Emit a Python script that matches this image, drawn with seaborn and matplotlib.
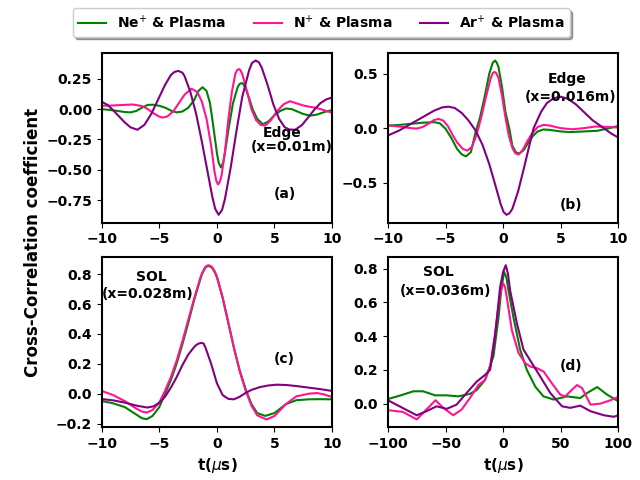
import numpy as np
import matplotlib
matplotlib.use('Agg')
import matplotlib.pyplot as plt
import seaborn as sns

# colours / labels
labels = ['Ne$^{+}$ & Plasma', 'N$^{+}$ & Plasma', 'Ar$^{+}$ & Plasma']
colors = ['green', '#ff1493', 'purple']

# (a) Edge x=0.01m
t_a_ne = [-10, -9, -8, -7.5, -7, -6.5, -6, -5.5, -5, -4.5, -4, -3.5, -3, -2.5, -2, -1.6, -1.25, -0.9, -0.6, -0.3,
          0.0, 0.15, 0.35, 0.55, 0.7, 1.0, 1.4, 1.8, 1.95, 2.15, 2.3, 2.5, 2.8, 3.1, 3.5, 4.0, 4.5, 5, 5.5, 6, 6.5,
          7, 7.5, 8.1, 8.7, 9.3, 10]
v_a_ne = [0.0, -0.01, -0.024, -0.027, -0.015, 0.012, 0.035, 0.036, 0.027, 0.012, -0.012, -0.027, -0.02, 0.01, 0.07,
          0.15, 0.18, 0.15, 0.05, -0.15, -0.36, -0.44, -0.48, -0.44, -0.36, -0.17, 0.05, 0.18, 0.205, 0.215, 0.205,
          0.17, 0.09, 0.0, -0.08, -0.125, -0.10, -0.05, -0.015, 0.005, 0.0, -0.02, -0.04, -0.054, -0.045, -0.025,
          -0.008]
t_a_n = [-10, -9, -8, -7.3, -6.5, -6, -5.5, -5, -4.7, -4.3, -3.8, -3.3, -2.8, -2.2, -1.7, -1.3, -0.9, -0.5, -0.2,
         -0.05, 0.1, 0.25, 0.4, 0.7, 1.0, 1.3, 1.6, 1.75, 1.9, 2.05, 2.2, 2.6, 3.0, 3.4, 3.8, 4.2, 4.7, 5.2, 5.8,
         6.35, 7, 7.5, 8, 8.5, 9, 9.5, 10]
v_a_n = [0.027, 0.03, 0.035, 0.038, 0.025, 0.0, -0.035, -0.062, -0.07, -0.06, -0.02, 0.05, 0.12, 0.168, 0.14, 0.06,
         -0.08, -0.3, -0.52, -0.59, -0.62, -0.6, -0.55, -0.35, -0.08, 0.14, 0.29, 0.32, 0.33, 0.32, 0.29, 0.15, 0.0,
         -0.09, -0.13, -0.136, -0.09, -0.02, 0.04, 0.065, 0.045, 0.03, 0.02, 0.012, 0.0, -0.015, -0.03]
t_a_ar = [-10, -9.5, -9, -8.5, -8, -7.5, -6.9, -6.3, -5.7, -5.1, -4.5, -4, -3.7, -3.36, -3.0, -2.8, -2.3, -1.8, -1.3,
          -0.8, -0.4, -0.15, 0.15, 0.45, 0.7, 1.2, 1.7, 2.2, 2.8, 3.05, 3.36, 3.65, 3.9, 4.4, 4.9, 5.4, 5.9, 6.3,
          6.8, 7.4, 8, 8.5, 9, 9.5, 10]
v_a_ar = [0.06, 0.035, -0.01, -0.06, -0.11, -0.15, -0.17, -0.13, -0.04, 0.08, 0.2, 0.28, 0.305, 0.315, 0.3, 0.27,
          0.14, -0.04, -0.27, -0.52, -0.72, -0.82, -0.87, -0.83, -0.74, -0.48, -0.18, 0.1, 0.32, 0.38, 0.40, 0.385,
          0.34, 0.2, 0.04, -0.08, -0.15, -0.168, -0.17, -0.13, -0.06, 0.0, 0.05, 0.08, 0.095]

# (b) Edge x=0.016m
t_b_ne = [-10, -9, -8, -7, -6, -5.5, -5, -4.5, -4, -3.6, -3.23, -2.8, -2.4, -2.0, -1.6, -1.2, -0.9, -0.7, -0.55,
          -0.4, -0.1, 0.2, 0.55, 0.8, 1.1, 1.4, 1.8, 2.2, 2.6, 3.0, 3.5, 4, 5, 5.8, 7, 8.2, 9, 10]
v_b_ne = [0.024, 0.03, 0.04, 0.05, 0.055, 0.045, -0.005, -0.09, -0.19, -0.24, -0.258, -0.22, -0.04, 0.1, 0.29, 0.5,
          0.6, 0.62, 0.6, 0.56, 0.38, 0.15, -0.01, -0.16, -0.22, -0.233, -0.2, -0.13, -0.07, -0.03, -0.012, -0.015,
          -0.03, -0.036, -0.03, -0.024, -0.005, 0.02]
t_b_n = [-10, -9, -8, -7.5, -7, -6.5, -6, -5.6, -5.2, -4.8, -4.4, -4, -3.5, -3.1, -2.7, -2.3, -1.9, -1.5, -1.1, -0.9,
         -0.75, -0.6, -0.4, -0.1, 0.2, 0.5, 0.8, 1.05, 1.35, 1.7, 2.1, 2.5, 3.0, 3.5, 4, 5, 6, 7, 8, 9, 10]
v_b_n = [0.024, 0.015, 0.0, -0.004, 0.01, 0.04, 0.075, 0.085, 0.07, 0.02, -0.06, -0.13, -0.19, -0.206, -0.17, -0.06,
         0.1, 0.28, 0.45, 0.505, 0.515, 0.505, 0.46, 0.3, 0.1, -0.07, -0.18, -0.23, -0.242, -0.2, -0.12, -0.05,
         0.01, 0.03, 0.025, 0.0, -0.01, 0.0, 0.015, 0.012, 0.006]
t_b_ar = [-10, -9, -8, -7, -6, -5.3, -4.75, -4.2, -3.6, -3, -2.4, -1.8, -1.2, -0.6, -0.2, 0.05, 0.3, 0.55, 0.8, 1.3,
          1.8, 2.3, 2.65, 3.3, 3.8, 4.4, 5.0, 5.6, 6.3, 7, 7.8, 8.75, 9.4, 10]
v_b_ar = [-0.067, -0.02, 0.04, 0.1, 0.16, 0.19, 0.197, 0.185, 0.14, 0.07, -0.02, -0.15, -0.33, -0.55, -0.7, -0.77,
          -0.794, -0.78, -0.74, -0.58, -0.37, -0.15, 0.0, 0.15, 0.23, 0.275, 0.288, 0.27, 0.22, 0.15, 0.07, 0.0,
          -0.05, -0.085]

# (c) SOL x=0.028m
t_c_ne = [-10, -9, -8, -7, -6.5, -6.1, -5.6, -5.0, -4.5, -4.0, -3.5, -3, -2.5, -2, -1.5, -1.3, -1.1, -0.95, -0.75,
          -0.55, -0.4, -0.2, 0, 0.5, 1, 1.5, 2, 2.5, 3, 3.5, 4.2, 5, 5.5, 6, 6.9, 8, 9, 10]
v_c_ne = [-0.049, -0.065, -0.09, -0.14, -0.165, -0.171, -0.15, -0.09, 0.0, 0.09, 0.2, 0.33, 0.47, 0.62, 0.75, 0.80,
          0.83, 0.848, 0.855, 0.85, 0.84, 0.815, 0.78, 0.64, 0.47, 0.3, 0.15, 0.03, -0.07, -0.13, -0.149, -0.13,
          -0.1, -0.07, -0.044, -0.038, -0.037, -0.038]
t_c_n = [-10, -9, -8, -7, -6.5, -6.1, -5.6, -5.0, -4.5, -4, -3.5, -3, -2.5, -2, -1.5, -1.3, -1.1, -0.95, -0.75, -0.55,
         -0.4, -0.2, 0, 0.5, 1, 1.5, 2, 2.5, 3, 3.5, 4.3, 5, 5.5, 6, 6.9, 8, 8.7, 9.3, 10]
v_c_n = [0.018, -0.01, -0.05, -0.1, -0.12, -0.127, -0.11, -0.06, 0.02, 0.11, 0.22, 0.35, 0.49, 0.63, 0.76, 0.805,
         0.835, 0.853, 0.86, 0.855, 0.845, 0.82, 0.785, 0.645, 0.475, 0.3, 0.145, 0.02, -0.08, -0.145, -0.173, -0.15,
         -0.11, -0.07, -0.018, 0.0, 0.004, -0.005, -0.022]
t_c_ar = [-10, -9, -8, -7, -6.05, -5.5, -5, -4.5, -4, -3.5, -3, -2.5, -2, -1.8, -1.6, -1.33, -1.15, -1, -0.5, 0, 0.5,
          1, 1.48, 2, 2.5, 3, 3.74, 4.5, 5.2, 6, 7, 8, 9, 10]
v_c_ar = [-0.036, -0.045, -0.06, -0.08, -0.093, -0.085, -0.06, -0.02, 0.04, 0.11, 0.19, 0.26, 0.31, 0.325, 0.335,
          0.34, 0.335, 0.31, 0.2, 0.07, -0.01, -0.035, -0.038, -0.02, 0.005, 0.025, 0.044, 0.055, 0.06, 0.058, 0.05,
          0.04, 0.03, 0.018]

# (d) SOL x=0.036m
t_d_ne = [-100, -87, -78, -69.5, -59, -49, -39, -29, -23, -15.7, -8.4, -4, -1.5, 0.9, 2.8, 4.7, 9, 14.8, 20.6, 28,
          35, 44, 55.5, 67, 73, 81.7, 90.4, 100]
v_d_ne = [0.027, 0.053, 0.073, 0.073, 0.049, 0.049, 0.043, 0.057, 0.08, 0.14, 0.28, 0.51, 0.68, 0.78, 0.75, 0.67,
          0.51, 0.32, 0.2, 0.10, 0.043, 0.024, 0.043, 0.033, 0.063, 0.098, 0.053, 0.014]
t_d_n = [-100, -87, -75, -66.6, -58.7, -52, -43.3, -36, -28.8, -21.5, -15.7, -11.3, -7, -2.6, -1, 0.3, 1.7, 3.2, 7.6,
         13.4, 19.2, 23.5, 29.4, 35.2, 42.4, 49.7, 54, 58.4, 64.2, 68.6, 75.9, 84.6, 93.3, 100]
v_d_n = [-0.039, -0.049, -0.094, -0.035, 0.02, -0.025, -0.069, -0.035, 0.033, 0.11, 0.14, 0.22, 0.415, 0.65, 0.69,
         0.71, 0.69, 0.63, 0.435, 0.30, 0.24, 0.22, 0.21, 0.19, 0.12, 0.053, 0.043, 0.073, 0.11, 0.092, -0.006, 0.0,
         0.02, 0.039]
t_d_ar = [-100, -90, -75, -66.6, -57.8, -49, -40.4, -31.7, -23, -15.7, -11.3, -7, -2.6, 0, 2.3, 4.2, 6.1, 12, 17.7,
          25, 32.3, 41, 51.2, 58.4, 67, 75.9, 87.5, 96.2, 100]
v_d_ar = [0.02, -0.016, -0.069, -0.045, -0.016, -0.031, -0.006, 0.063, 0.13, 0.17, 0.2, 0.40, 0.69, 0.78, 0.82, 0.77,
          0.67, 0.475, 0.32, 0.24, 0.16, 0.063, -0.016, -0.025, -0.012, -0.045, -0.069, -0.078, -0.069]

panels = [
    ([(t_a_ne, v_a_ne), (t_a_n, v_a_n), (t_a_ar, v_a_ar)], (-10, 10), [-10, -5, 0, 5, 10]),
    ([(t_b_ne, v_b_ne), (t_b_n, v_b_n), (t_b_ar, v_b_ar)], (-10, 10), [-10, -5, 0, 5, 10]),
    ([(t_c_ne, v_c_ne), (t_c_n, v_c_n), (t_c_ar, v_c_ar)], (-10, 10), [-10, -5, 0, 5, 10]),
    ([(t_d_ne, v_d_ne), (t_d_n, v_d_n), (t_d_ar, v_d_ar)], (-100, 100), [-100, -50, 0, 50, 100]),
]

# annotations: (x, y, text)
notes = [
    [(5.65, -0.20, 'Edge'), (6.5, -0.315, '(x=0.01m)'), (5.9, -0.70, '(a)')],
    [(5.6, 0.45, 'Edge'), (5.9, 0.29, '(x=0.016m)'), (5.9, -0.70, '(b)')],
    [(-5.7, 0.78, 'SOL'), (-6.0, 0.67, '(x=0.028m)'), (5.85, 0.23, '(c)')],
    [(-56, 0.78, 'SOL'), (-50, 0.67, '(x=0.036m)'), (59, 0.225, '(d)')],
]

fig, axes = plt.subplots(2, 2, figsize=(6.4, 4.8), dpi=100)
fig.subplots_adjust(left=0.159, right=0.966, top=0.890, bottom=0.110, wspace=0.243, hspace=0.206)

for i, ax in enumerate(axes.flat):
    curves, xlim, xticks = panels[i]
    for j, (t, v) in enumerate(curves):
        sns.lineplot(x=t, y=v, ax=ax, color=colors[j], lw=1.5, label=labels[j] if i == 0 else None)
    ax.set_xlim(xlim)
    ax.set_xticks(xticks)
    for x, y, s in notes[i]:
        ax.text(x, y, s, ha='center', va='center', fontsize=10, fontweight='bold')
    for sp in ax.spines.values():
        sp.set_linewidth(1.5)
    if ax.get_legend() is not None:
        ax.get_legend().remove()

axes[0, 0].set_yticks([0.25, 0.0, -0.25, -0.5, -0.75])
axes[0, 1].set_yticks([0.5, 0.0, -0.5])
axes[1, 0].set_yticks([0.8, 0.6, 0.4, 0.2, 0.0, -0.2])
axes[1, 1].set_yticks([0.8, 0.6, 0.4, 0.2, 0.0])
for ax in axes.flat:
    for lab in ax.get_xticklabels() + ax.get_yticklabels():
        lab.set_fontweight('bold')
        lab.set_fontsize(10)

for ax in axes[1]:
    ax.set_xlabel('t($\\mu$s)', fontsize=11, fontweight='bold')

fig.text(0.052, 0.495, 'Cross-Correlation coefficient', rotation=90, ha='center', va='center',
         fontsize=12, fontweight='bold')

handles, labs = axes[0, 0].get_legend_handles_labels()
fig.legend(handles, labs, loc='center', bbox_to_anchor=(0.502, 0.953), ncol=3, shadow=True,
           prop={'weight': 'bold', 'size': 10})

fig.savefig('out.png', dpi=100)
